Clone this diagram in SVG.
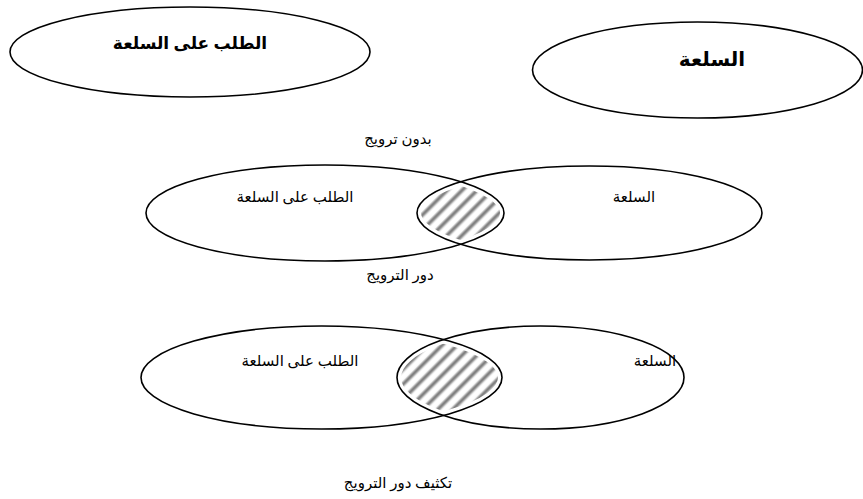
<svg xmlns="http://www.w3.org/2000/svg" width="863" height="499" viewBox="0 0 863 499">
<style>
.sh{fill:none;stroke:#000;stroke-width:1.6}
.wm{fill:none;stroke:#fff;stroke-width:8}
.t{font-family:"Liberation Serif","DejaVu Sans",serif;fill:#000;text-anchor:middle;direction:rtl}
.b{font-weight:bold}
</style>
<defs>
<pattern id="hatch" patternUnits="userSpaceOnUse" width="10.6" height="10.6" patternTransform="rotate(-45)">
<rect width="10.6" height="10.6" fill="#fff"/>
<rect x="0" y="2.8" width="10.6" height="5.4" fill="#d4d4d4"/>
<rect x="0" y="3.8" width="10.6" height="3.4" fill="#a0a0a0"/>
<rect x="0" y="4.6" width="10.6" height="1.8" fill="#808080"/>
</pattern>
<clipPath id="c1"><ellipse cx="325" cy="213" rx="179" ry="48"/></clipPath>
<clipPath id="c1b"><ellipse cx="589.5" cy="213" rx="172.5" ry="47"/></clipPath>
<clipPath id="c2"><ellipse cx="321.5" cy="377.5" rx="180.5" ry="51.5"/></clipPath>
<clipPath id="c2b"><ellipse cx="540.5" cy="377.5" rx="143.5" ry="51.5"/></clipPath>
</defs>
<g id="top-demand">
<ellipse class="sh" cx="190" cy="52" rx="180" ry="45"/>
<text class="t b" x="190" y="49" font-size="17">الطلب على السلعة</text>
</g>
<g id="top-product">
<ellipse class="sh" cx="697.5" cy="70" rx="165" ry="48"/>
<text class="t b" x="712" y="66" font-size="20">السلعة</text>
</g>
<text class="t" x="398" y="144" font-size="15">بدون ترويج</text>
<g id="mid-overlap">
<ellipse cx="589.5" cy="213" rx="172.5" ry="47" fill="url(#hatch)" clip-path="url(#c1)"/>
<g clip-path="url(#c1)"><ellipse class="wm" cx="589.5" cy="213" rx="172.5" ry="47"/></g>
<g clip-path="url(#c1b)"><ellipse class="wm" cx="325" cy="213" rx="179" ry="48"/></g>
</g>
<g id="mid-demand">
<ellipse class="sh" cx="325" cy="213" rx="179" ry="48"/>
<text class="t" x="295" y="202" font-size="15">الطلب على السلعة</text>
</g>
<g id="mid-product">
<ellipse class="sh" cx="589.5" cy="213" rx="172.5" ry="47"/>
<text class="t" x="634" y="202" font-size="15">السلعة</text>
</g>
<text class="t" x="400" y="280" font-size="15">دور الترويج</text>
<g id="bot-overlap">
<ellipse cx="540.5" cy="377.5" rx="143.5" ry="51.5" fill="url(#hatch)" clip-path="url(#c2)"/>
<g clip-path="url(#c2)"><ellipse class="wm" cx="540.5" cy="377.5" rx="143.5" ry="51.5"/></g>
<g clip-path="url(#c2b)"><ellipse class="wm" cx="321.5" cy="377.5" rx="180.5" ry="51.5"/></g>
</g>
<g id="bot-demand">
<ellipse class="sh" cx="321.5" cy="377.5" rx="180.5" ry="51.5"/>
<text class="t" x="300" y="366" font-size="15">الطلب على السلعة</text>
</g>
<g id="bot-product">
<ellipse class="sh" cx="540.5" cy="377.5" rx="143.5" ry="51.5"/>
<text class="t" x="655" y="366" font-size="15">السلعة</text>
</g>
<text class="t" x="398" y="488" font-size="15">تكثيف دور الترويج</text>
<g id="connectors"></g>
</svg>
